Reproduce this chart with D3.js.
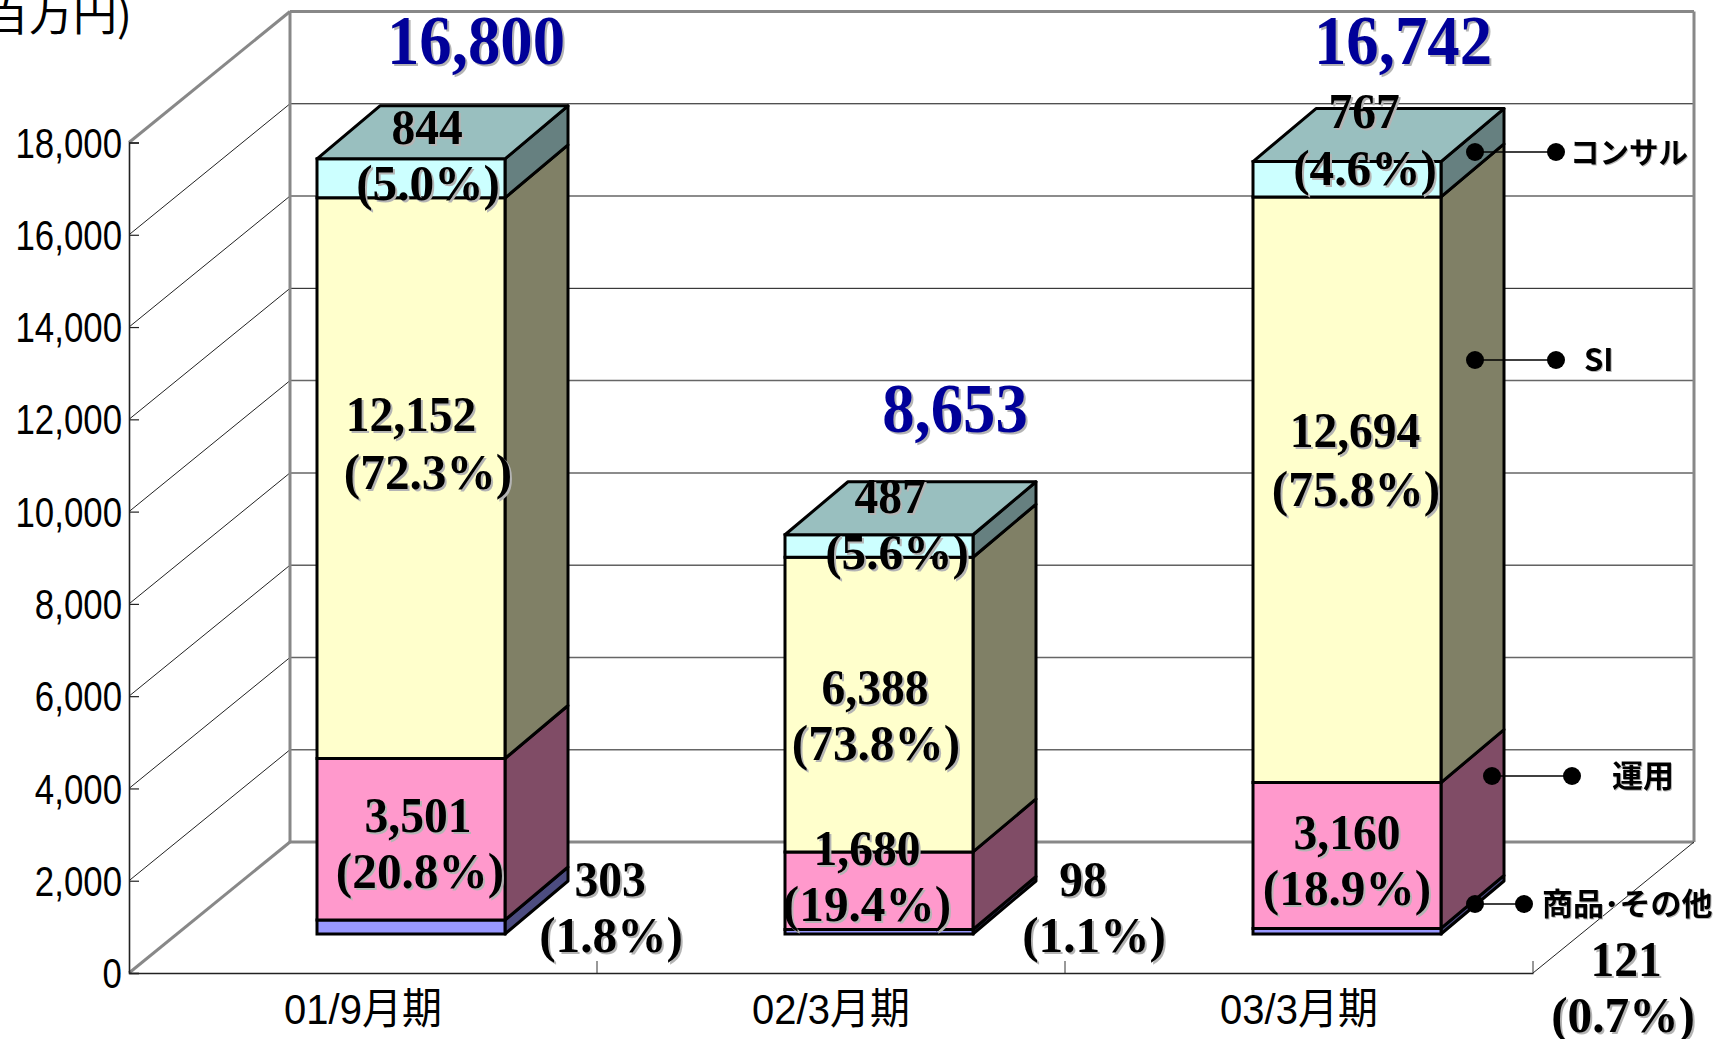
<!DOCTYPE html>
<html>
<head>
<meta charset="utf-8">
<script src="https://cdn.jsdelivr.net/npm/d3@7"></script>
<style>
html, body { margin: 0; padding: 0; background: #fff; overflow: hidden; }
.num { font-family: "Liberation Serif", serif; font-weight: bold; fill: #000; filter: drop-shadow(2px 2px 0 #b4b4b4); }
.total { fill: #000099; }
.tick-label { font-family: "Liberation Sans", sans-serif; fill: #000; }
.cat { font-family: "Liberation Sans", "Noto Sans CJK JP", sans-serif; fill: #000; }
.callout { font-family: "Noto Sans CJK JP", sans-serif; font-weight: bold; fill: #000; filter: drop-shadow(1.5px 1.5px 0 #b4b4b4); }
</style>
</head>
<body>
<script>
var categories = ["01/9月期", "02/3月期", "03/3月期"];
var seriesKeys = ["other", "unyou", "si", "consul"];
var other = [303, 98, 121];
var unyou = [3501, 1680, 3160];
var si = [12152, 6388, 12694];
var consul = [844, 487, 767];
var totals = [16800, 8653, 16742];
var otherPct = ["(1.8%)", "(1.1%)", "(0.7%)"];
var unyouPct = ["(20.8%)", "(19.4%)", "(18.9%)"];
var siPct = ["(72.3%)", "(73.8%)", "(75.8%)"];
var consulPct = ["(5.0%)", "(5.6%)", "(4.6%)"];
var yTicks = [0, 2000, 4000, 6000, 8000, 10000, 12000, 14000, 16000, 18000];
var calloutNames = ["コンサル", "SI", "運用", "商品･その他"];

var width = 1715, height = 1039;
var left = 129, right = 1533, floorY = 973, topY = 142.5;
var wallDx = 161, wallDy = -131;     // depth of the whole box
var barDx = 48, barDy = -39;         // front plane of the bars
var depthDx = 63, depthDy = -53;     // depth of a bar
var barWidth = 188;

var front = { other: "#9999ff", unyou: "#ff99cc", si: "#ffffcc", consul: "#ccffff" };
var side = { other: "#4c4c80", unyou: "#804c66", si: "#808066", consul: "#668080" };
var topFace = "#99bfbf";

var x = d3.scaleBand().domain(categories).range([left, right]);
var y = d3.scaleLinear().domain([0, 18000]).range([floorY, topY]);

var rows = categories.map(function(c, i) {
  return { cat: c, other: other[i], unyou: unyou[i], si: si[i], consul: consul[i] };
});
var stacked = d3.stack().keys(seriesKeys)(rows);

var svg = d3.select("body").append("svg")
    .attr("width", width)
    .attr("height", height)
    .style("display", "block");

// squeeze text horizontally, the source font is narrower than ours
function squeeze(sel, k) {
  sel.each(function() {
    var n = this.getComputedTextLength();
    d3.select(this).attr("textLength", n * k).attr("lengthAdjust", "spacingAndGlyphs");
  });
}

function seg(g, x1, y1, x2, y2, color, w) {
  g.append("line").attr("x1", x1).attr("y1", y1).attr("x2", x2).attr("y2", y2)
    .attr("stroke", color).attr("stroke-width", w);
}

// walls
var walls = svg.append("g");
var backX = left + wallDx, backRight = right + wallDx;
yTicks.slice(0, -1).forEach(function(t) {
  var gy = y(t) + wallDy;
  if (t > 0) {
    var dark = t == 16000 || t == 12000 || t == 6000;
    seg(walls, backX, gy, backRight, gy, dark ? "#111" : "#666", dark ? 1 : 1.5);
    seg(walls, left, y(t), backX, gy, "#222", 1);
  }
});
seg(walls, backX, y(18000) + wallDy, backRight, y(18000) + wallDy, "#888", 3);
seg(walls, backX, y(18000) + wallDy, backX, y(0) + wallDy, "#888", 3);
seg(walls, backRight, y(18000) + wallDy, backRight, y(0) + wallDy, "#888", 3);
seg(walls, backX, y(0) + wallDy, backRight, y(0) + wallDy, "#888", 3);
seg(walls, left, y(18000), backX, y(18000) + wallDy, "#888", 3);
seg(walls, left, y(0), backX, y(0) + wallDy, "#888", 3);
seg(walls, right, y(0), backRight, y(0) + wallDy, "#222", 1);

// y axis
var yAxis = svg.append("g")
    .attr("transform", "translate(" + left + ",0)")
    .call(d3.axisLeft(y).tickValues(yTicks).tickFormat(d3.format(",")).tickSize(-10).tickPadding(7));
yAxis.select(".domain").attr("stroke", "#222").attr("stroke-width", 1.6);
yAxis.selectAll(".tick line").attr("stroke", "#222").attr("stroke-width", 1.2);
yAxis.selectAll("text").attr("class", "tick-label").attr("font-size", 43).attr("font-family", null).attr("dy", "0.34em")
    .call(squeeze, 0.81);

// x axis
var xAxis = svg.append("g")
    .attr("transform", "translate(0," + floorY + ")")
    .call(d3.axisBottom(x).tickSize(0).tickPadding(12));
xAxis.select(".domain").attr("stroke", "#222").attr("stroke-width", 1.4);
xAxis.selectAll("text").attr("class", "cat").attr("font-size", 43).attr("font-family", null)
    .attr("dy", "0.9em").call(squeeze, 0.93);
categories.forEach(function(c) {
  var tx = x(c) + x.bandwidth();
  seg(svg, tx, floorY, tx, floorY - 12, "#333", 1);
});

// bars
var barsG = svg.append("g");
function barLeft(c) { return x(c) + x.bandwidth() / 2 + barDx - barWidth / 2; }
function poly(pts) { return d3.line()(pts) + "Z"; }

stacked.forEach(function(layer) {
  var key = layer.key;
  layer.forEach(function(d) {
    var c = d.data.cat;
    var x0 = barLeft(c), x1 = x0 + barWidth;
    var y0 = y(d[0]) + barDy, y1 = y(d[1]) + barDy;
    barsG.append("path")
      .attr("d", poly([[x1, y0], [x1 + depthDx, y0 + depthDy], [x1 + depthDx, y1 + depthDy], [x1, y1]]))
      .attr("fill", side[key]).attr("stroke", "#000").attr("stroke-width", 3).attr("stroke-linejoin", "round");
    barsG.append("path")
      .attr("d", poly([[x0, y0], [x1, y0], [x1, y1], [x0, y1]]))
      .attr("fill", front[key]).attr("stroke", "#000").attr("stroke-width", 3);
    if (key == "consul") {
      barsG.append("path")
        .attr("d", poly([[x0, y1], [x1, y1], [x1 + depthDx, y1 + depthDy], [x0 + depthDx, y1 + depthDy]]))
        .attr("fill", topFace).attr("stroke", "#000").attr("stroke-width", 3).attr("stroke-linejoin", "round");
    }
  });
});

// labels: [x centre, baseline] of value line and percent line, per bar
var labelLayout = {
  consul: [[427, 144, 428, 200], [890, 513, 897, 569], [1364, 128, 1365, 185]],
  si: [[411, 431, 428, 489], [875, 704, 876, 760], [1355, 447, 1356, 506]],
  unyou: [[418, 832, 420, 888], [867, 865, 867, 921], [1347, 849, 1347, 905]],
  other: [[610, 896, 611, 952], [1083, 896, 1094, 952], [1626, 976, 1623, 1032]]
};
var labelValues = { consul: consul, si: si, unyou: unyou, other: other };
var labelPcts = { consul: consulPct, si: siPct, unyou: unyouPct, other: otherPct };
var fmt = d3.format(",");

var labels = svg.append("g");
function addNum(cx, by, txt, size) {
  return labels.append("text").attr("class", "num").attr("x", cx).attr("y", by)
    .attr("text-anchor", "middle").attr("font-size", size).text(txt);
}
seriesKeys.forEach(function(key) {
  categories.forEach(function(c, i) {
    var p = labelLayout[key][i];
    addNum(p[0], p[1], fmt(labelValues[key][i]), 50).call(squeeze, 0.95);
    addNum(p[2], p[3], labelPcts[key][i], 50).call(squeeze, 0.985);
  });
});

// totals
var totalCx = [476, 955, 1403], totalBase = [64, 432, 64];
totals.forEach(function(t, i) {
  addNum(totalCx[i], totalBase[i], fmt(t), 70).classed("total", true).call(squeeze, 0.925);
});

// callouts: dot in the bar, dot outside, text start, y
var calloutLayout = [[1475, 1556, 1570, 152], [1475, 1556, 1584, 360], [1492, 1572, 1612, 776], [1475, 1524, 1542, 904]];
var callouts = svg.append("g");
calloutNames.forEach(function(name, i) {
  var l = calloutLayout[i];
  seg(callouts, l[0], l[3], l[1], l[3], "#000", 1.6);
  callouts.append("circle").attr("cx", l[0]).attr("cy", l[3]).attr("r", 9).attr("fill", "#000");
  callouts.append("circle").attr("cx", l[1]).attr("cy", l[3]).attr("r", 9).attr("fill", "#000");
  callouts.append("text").attr("class", "callout").attr("x", l[2]).attr("y", l[3]).attr("dy", "0.36em")
    .attr("font-size", i == 0 ? 29.5 : 31).text(name);
});

// unit, clipped by the page edge like in the source
svg.append("text").attr("class", "cat").attr("x", 132).attr("y", 31)
  .attr("text-anchor", "end").attr("font-size", 44).style("font-family", "'Noto Sans CJK JP'").text("(百万円)");
</script>
</body>
</html>
